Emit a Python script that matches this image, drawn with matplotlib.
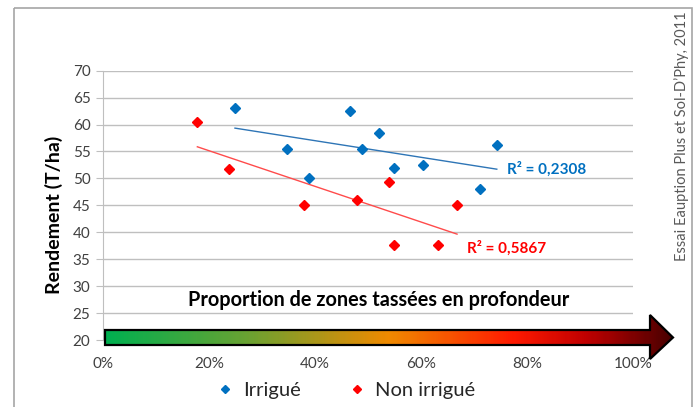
import numpy as np
import matplotlib
matplotlib.use("Agg")
import matplotlib.pyplot as plt
from matplotlib.patches import Polygon, Rectangle
from matplotlib.colors import LinearSegmentedColormap
from matplotlib.lines import Line2D

plt.rcParams['font.family'] = ['Lato', 'DejaVu Sans']

# proportion of compacted zones (fraction) and yield (T/ha)
irr_x = [0.249, 0.348, 0.389, 0.466, 0.489, 0.520, 0.549, 0.603, 0.712, 0.743]
irr_y = [63.0, 55.5, 50.0, 62.5, 55.5, 58.4, 52.0, 52.5, 48.0, 56.2]
non_x = [0.178, 0.238, 0.379, 0.480, 0.539, 0.549, 0.632, 0.668]
non_y = [60.4, 51.8, 45.0, 46.0, 49.3, 37.7, 37.7, 45.0]

r2_irr = "R² = 0,2308"
r2_non = "R² = 0,5867"
y_ticks = [20, 25, 30, 35, 40, 45, 50, 55, 60, 65, 70]
x_ticks = [0, 0.2, 0.4, 0.6, 0.8, 1.0]

blue = '#0070C0'
red = '#FF0000'

W, H = 697, 407
fig = plt.figure(figsize=(W / 100, H / 100), dpi=100)
ax = fig.add_axes([103 / W, 1 - 340 / H, 530 / W, 269.3 / H])

ax.set_xlim(0, 1)
ax.set_ylim(20, 70)
ax.set_yticks(y_ticks)
ax.set_xticks(x_ticks)
ax.set_xticklabels([f"{int(t * 100)}%" for t in x_ticks])
ax.grid(axis='y', color='#BFBFBF', lw=1)
ax.set_axisbelow(True)
for s in ['top', 'right', 'bottom']:
    ax.spines[s].set_visible(False)
ax.spines['left'].set_color('#BFBFBF')
ax.tick_params(axis='y', colors='#BFBFBF', labelcolor='#404040', labelsize=11, length=5, pad=4)
ax.tick_params(axis='x', length=0, labelcolor='#404040', labelsize=11, pad=12)

ax.plot(irr_x, irr_y, 'D', color=blue, ms=5.5, zorder=3)
ax.plot(non_x, non_y, 'D', color=red, ms=5.5, zorder=3)

# linear trend lines
for xs, ys, c in [(irr_x, irr_y, '#2E75B6'), (non_x, non_y, '#FF4B4B')]:
    k, b = np.polyfit(xs, ys, 1)
    xx = np.array([min(xs), max(xs)])
    ax.plot(xx, k * xx + b, color=c, lw=1, zorder=2)

ax.text(max(irr_x) + 0.02, 51.7, r2_irr, color=blue, fontsize=11, fontweight='bold', va='center')
ax.text(max(non_x) + 0.018, 37.0, r2_non, color=red, fontsize=11, fontweight='bold', va='center')

ax.set_ylabel("Rendement (T/ha)", fontsize=14, fontweight='bold', color='black')
ax.yaxis.set_label_coords(-0.075, 0.465)
ax.text(0.52, 27.5, "Proportion de zones tassées en profondeur", ha='center', va='center',
        fontsize=14.3, fontweight='bold', color='black')

# overlay in pixel units for the arrow and frame
ov = fig.add_axes([0, 0, 1, 1], facecolor='none')
ov.set_xlim(0, W)
ov.set_ylim(H, 0)
ov.axis('off')

pts = [(105, 330), (650, 330), (650, 315), (673, 337.5), (650, 359), (650, 345), (105, 345)]
cmap = LinearSegmentedColormap.from_list('arr', [
    (0.0, '#00B050'), (0.25, '#6AA232'), (0.5, '#F08A00'),
    (0.72, '#FF1A00'), (0.85, '#C00000'), (1.0, '#4A0000')])
grad = np.linspace(0, 1, 300).reshape(1, -1)
im = ov.imshow(grad, cmap=cmap, extent=[105, 673, 359, 315], aspect='auto', zorder=4)
arrow = Polygon(pts, closed=True, facecolor='none', edgecolor='black', lw=1.6, zorder=5)
ov.add_patch(arrow)
im.set_clip_path(arrow)

ov.add_patch(Rectangle((14, 8), 678, 410, fill=False, edgecolor='#A6A6A6', lw=1.2))

fig.text(682 / W, 1 - 136 / H, "Essai Eauption Plus et Sol-D\u2019Phy, 2011", rotation=90,
         ha='center', va='center', fontsize=10.5, color='#595959')

handles = [Line2D([], [], marker='D', ls='none', color=blue, ms=4.5, label='Irrigué'),
           Line2D([], [], marker='D', ls='none', color=red, ms=4.5, label='Non irrigué')]
fig.legend(handles=handles, loc='center', bbox_to_anchor=(346 / W, 1 - 390 / H), ncol=2,
           frameon=False, fontsize=14.5, handlelength=0.8, handletextpad=0.5, columnspacing=2.4,
           labelcolor='#262626')

fig.savefig('out.png', dpi=100)
